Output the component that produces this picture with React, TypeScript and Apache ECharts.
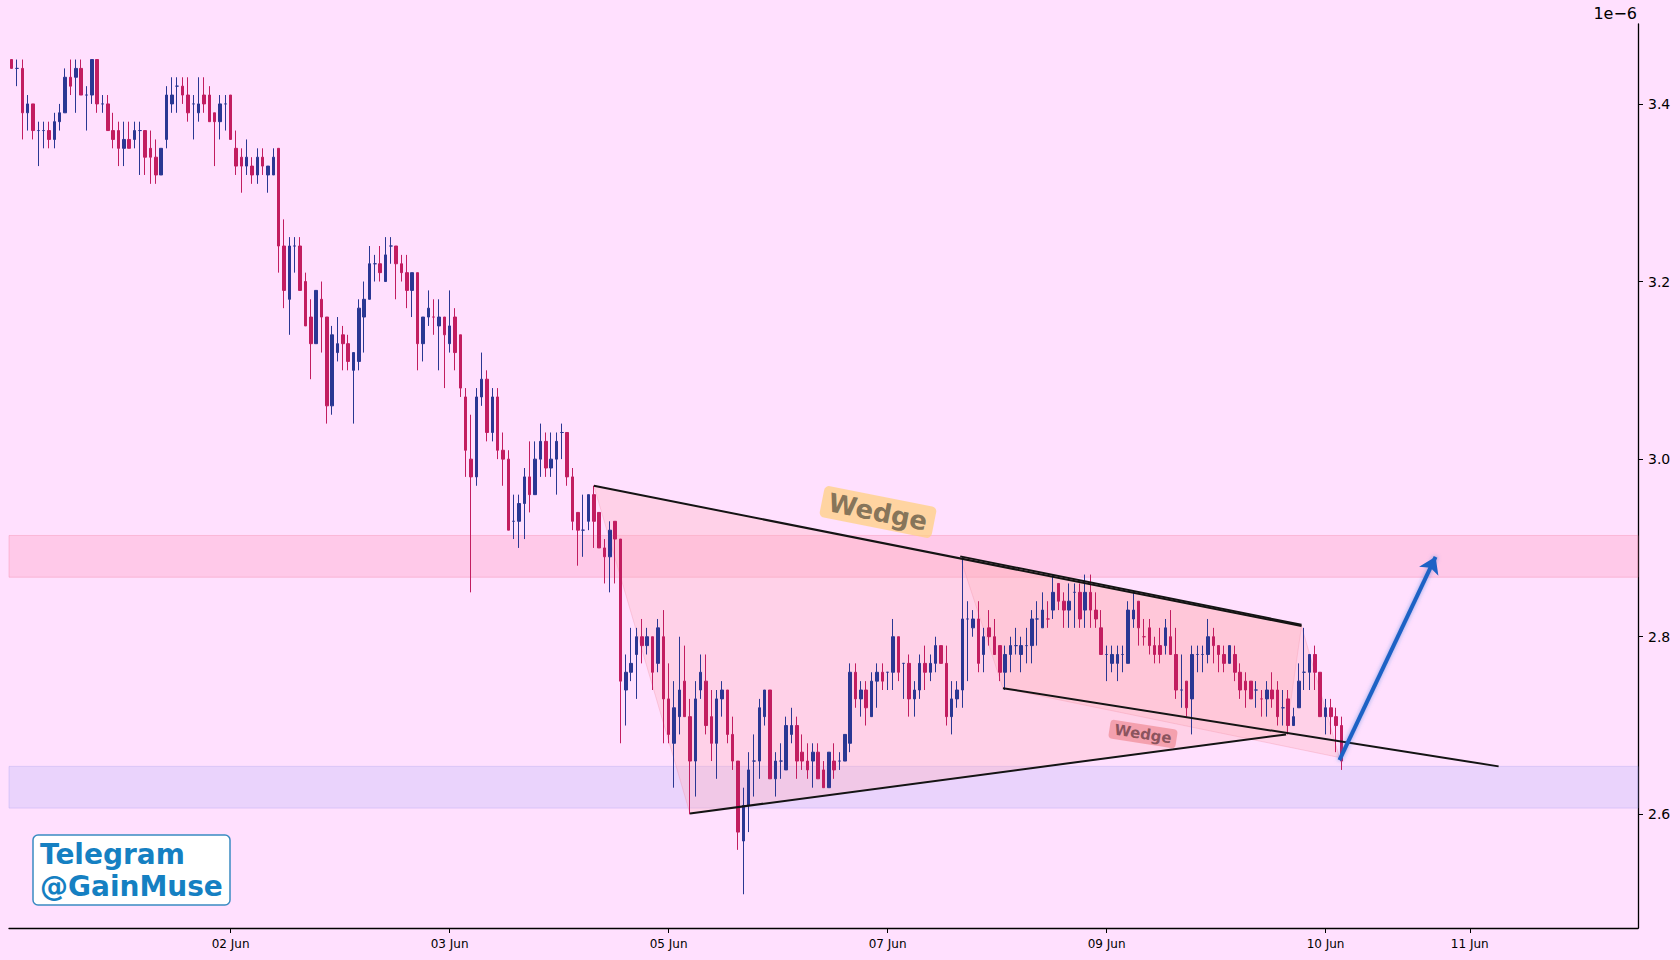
import React, { useEffect, useRef } from 'react';
import * as echarts from 'echarts';

// Candle values (units of 1e-6)
const opens = [
  3.45, 3.44, 3.44, 3.39, 3.40, 3.37, 3.37, 3.37, 3.36, 3.38,
  3.39, 3.43, 3.43, 3.44, 3.41, 3.41, 3.45, 3.40, 3.40, 3.37,
  3.37, 3.35, 3.36, 3.36, 3.37, 3.37, 3.35, 3.34, 3.32, 3.36,
  3.40, 3.42, 3.42, 3.41, 3.40, 3.39, 3.41, 3.41, 3.39, 3.38,
  3.40, 3.41, 3.35, 3.34, 3.33, 3.33, 3.32, 3.34, 3.32, 3.32,
  3.35, 3.24, 3.18, 3.24, 3.24, 3.20, 3.16, 3.13, 3.18, 3.16,
  3.06, 3.12, 3.14, 3.13, 3.10, 3.11, 3.16, 3.18, 3.22, 3.22,
  3.20, 3.24, 3.24, 3.22, 3.21, 3.19, 3.21, 3.13, 3.16, 3.16,
  3.15, 3.16, 3.13, 3.16, 3.14, 3.07, 3.00, 2.98, 3.07, 3.09,
  3.03, 3.07, 3.01, 3.00, 2.93, 2.93, 2.95, 2.98, 2.96, 3.00,
  3.02, 2.99, 3.00, 3.03, 3.03, 2.98, 2.94, 2.92, 2.93, 2.96,
  2.94, 2.90, 2.89, 2.93, 2.91, 2.74, 2.76, 2.78, 2.80, 2.79,
  2.80, 2.77, 2.80, 2.73, 2.68, 2.71, 2.75, 2.71, 2.66, 2.74,
  2.75, 2.71, 2.68, 2.73, 2.74, 2.69, 2.66, 2.57, 2.61, 2.66,
  2.66, 2.71, 2.74, 2.64, 2.66, 2.65, 2.69, 2.70, 2.67, 2.66,
  2.66, 2.67, 2.65, 2.63, 2.66, 2.66, 2.66, 2.68, 2.76, 2.73,
  2.74, 2.71, 2.75, 2.76, 2.76, 2.76, 2.80, 2.77, 2.77, 2.73,
  2.74, 2.77, 2.76, 2.77, 2.79, 2.77, 2.71, 2.73, 2.74, 2.82,
  2.81, 2.82, 2.78, 2.81, 2.80, 2.79, 2.76, 2.78, 2.79, 2.78,
  2.79, 2.79, 2.82, 2.81, 2.82, 2.83, 2.86, 2.84, 2.83, 2.85,
  2.85, 2.83, 2.85, 2.83, 2.81, 2.78, 2.77, 2.77, 2.78, 2.77,
  2.82, 2.84, 2.80, 2.81, 2.79, 2.79, 2.79, 2.80, 2.78, 2.74,
  2.75, 2.73, 2.78, 2.78, 2.78, 2.80, 2.79, 2.78, 2.77, 2.78,
  2.76, 2.75, 2.75, 2.74, 2.73, 2.73, 2.74, 2.74, 2.72, 2.73,
  2.70, 2.72, 2.76, 2.76, 2.78, 2.76, 2.71, 2.72, 2.71, 2.70,
];
const closes = [
  3.44, 3.44, 3.39, 3.40, 3.37, 3.37, 3.37, 3.36, 3.38, 3.39,
  3.43, 3.42, 3.44, 3.41, 3.41, 3.45, 3.40, 3.40, 3.37, 3.36,
  3.35, 3.36, 3.35, 3.37, 3.37, 3.34, 3.34, 3.32, 3.35, 3.41,
  3.41, 3.42, 3.41, 3.39, 3.40, 3.40, 3.40, 3.38, 3.38, 3.40,
  3.40, 3.36, 3.33, 3.33, 3.34, 3.32, 3.34, 3.33, 3.33, 3.34,
  3.24, 3.19, 3.24, 3.24, 3.19, 3.15, 3.13, 3.19, 3.16, 3.06,
  3.14, 3.13, 3.13, 3.11, 3.12, 3.17, 3.18, 3.22, 3.22, 3.21,
  3.23, 3.24, 3.22, 3.21, 3.19, 3.21, 3.13, 3.16, 3.17, 3.16,
  3.16, 3.14, 3.15, 3.12, 3.08, 3.01, 2.98, 3.07, 3.09, 3.03,
  3.07, 3.01, 3.00, 2.92, 2.93, 2.95, 2.98, 2.96, 3.00, 3.02,
  2.99, 3.00, 3.02, 3.03, 2.98, 2.93, 2.92, 2.92, 2.96, 2.93,
  2.90, 2.89, 2.92, 2.91, 2.75, 2.76, 2.77, 2.80, 2.79, 2.80,
  2.76, 2.81, 2.73, 2.69, 2.72, 2.74, 2.71, 2.66, 2.73, 2.76,
  2.70, 2.68, 2.73, 2.74, 2.69, 2.66, 2.58, 2.61, 2.65, 2.66,
  2.72, 2.74, 2.64, 2.66, 2.66, 2.70, 2.70, 2.66, 2.66, 2.65,
  2.67, 2.64, 2.63, 2.67, 2.65, 2.66, 2.69, 2.76, 2.73, 2.74,
  2.72, 2.75, 2.76, 2.75, 2.76, 2.80, 2.76, 2.77, 2.73, 2.74,
  2.77, 2.76, 2.77, 2.79, 2.77, 2.71, 2.73, 2.74, 2.82, 2.82,
  2.82, 2.77, 2.80, 2.80, 2.78, 2.76, 2.78, 2.79, 2.79, 2.79,
  2.79, 2.82, 2.82, 2.83, 2.82, 2.85, 2.84, 2.83, 2.84, 2.85,
  2.82, 2.85, 2.83, 2.82, 2.78, 2.78, 2.78, 2.78, 2.78, 2.83,
  2.83, 2.81, 2.80, 2.79, 2.78, 2.78, 2.81, 2.78, 2.74, 2.74,
  2.72, 2.78, 2.78, 2.78, 2.80, 2.79, 2.78, 2.77, 2.79, 2.76,
  2.74, 2.74, 2.73, 2.74, 2.73, 2.74, 2.73, 2.71, 2.72, 2.70,
  2.71, 2.75, 2.76, 2.78, 2.76, 2.71, 2.72, 2.71, 2.70, 2.66,
];
const lows = [
  3.44, 3.42, 3.36, 3.37, 3.36, 3.33, 3.35, 3.35, 3.35, 3.37,
  3.39, 3.41, 3.39, 3.41, 3.37, 3.40, 3.39, 3.39, 3.37, 3.35,
  3.33, 3.33, 3.35, 3.35, 3.32, 3.32, 3.31, 3.31, 3.32, 3.35,
  3.39, 3.39, 3.40, 3.38, 3.36, 3.38, 3.39, 3.38, 3.33, 3.36,
  3.37, 3.36, 3.32, 3.30, 3.32, 3.31, 3.31, 3.32, 3.30, 3.32,
  3.21, 3.17, 3.14, 3.21, 3.19, 3.15, 3.09, 3.13, 3.12, 3.04,
  3.05, 3.11, 3.10, 3.10, 3.04, 3.10, 3.12, 3.18, 3.20, 3.20,
  3.20, 3.22, 3.18, 3.20, 3.17, 3.16, 3.10, 3.11, 3.15, 3.14,
  3.10, 3.08, 3.12, 3.10, 3.07, 2.98, 2.85, 2.97, 3.06, 3.02,
  3.02, 3.00, 2.97, 2.92, 2.91, 2.90, 2.91, 2.94, 2.96, 2.98,
  2.98, 2.98, 2.96, 3.00, 2.97, 2.92, 2.88, 2.89, 2.92, 2.90,
  2.90, 2.86, 2.85, 2.86, 2.68, 2.70, 2.75, 2.73, 2.77, 2.78,
  2.74, 2.76, 2.68, 2.68, 2.63, 2.69, 2.71, 2.60, 2.62, 2.73,
  2.69, 2.66, 2.64, 2.71, 2.68, 2.65, 2.56, 2.51, 2.58, 2.62,
  2.64, 2.70, 2.64, 2.62, 2.64, 2.65, 2.68, 2.64, 2.65, 2.64,
  2.63, 2.64, 2.63, 2.63, 2.64, 2.65, 2.66, 2.67, 2.72, 2.71,
  2.70, 2.71, 2.72, 2.74, 2.74, 2.74, 2.75, 2.73, 2.71, 2.71,
  2.73, 2.74, 2.75, 2.76, 2.77, 2.70, 2.69, 2.72, 2.72, 2.75,
  2.80, 2.76, 2.76, 2.79, 2.78, 2.75, 2.74, 2.76, 2.78, 2.76,
  2.77, 2.77, 2.79, 2.81, 2.81, 2.82, 2.83, 2.81, 2.81, 2.81,
  2.81, 2.81, 2.81, 2.81, 2.78, 2.75, 2.76, 2.75, 2.76, 2.77,
  2.81, 2.79, 2.79, 2.78, 2.77, 2.77, 2.78, 2.78, 2.73, 2.72,
  2.71, 2.69, 2.76, 2.76, 2.77, 2.77, 2.76, 2.76, 2.77, 2.75,
  2.73, 2.72, 2.73, 2.72, 2.71, 2.71, 2.72, 2.70, 2.70, 2.69,
  2.70, 2.72, 2.74, 2.74, 2.74, 2.71, 2.69, 2.69, 2.67, 2.65,
];
const highs = [
  3.45, 3.45, 3.45, 3.41, 3.40, 3.38, 3.38, 3.38, 3.39, 3.40,
  3.44, 3.45, 3.45, 3.45, 3.42, 3.45, 3.45, 3.41, 3.41, 3.39,
  3.38, 3.38, 3.38, 3.38, 3.38, 3.37, 3.37, 3.36, 3.35, 3.42,
  3.43, 3.43, 3.43, 3.43, 3.41, 3.43, 3.43, 3.42, 3.39, 3.41,
  3.41, 3.41, 3.37, 3.35, 3.36, 3.34, 3.35, 3.35, 3.33, 3.35,
  3.35, 3.27, 3.25, 3.25, 3.25, 3.21, 3.18, 3.19, 3.20, 3.16,
  3.15, 3.16, 3.15, 3.14, 3.12, 3.18, 3.20, 3.24, 3.23, 3.24,
  3.25, 3.25, 3.24, 3.23, 3.23, 3.21, 3.21, 3.16, 3.19, 3.18,
  3.18, 3.16, 3.19, 3.17, 3.14, 3.08, 3.05, 3.08, 3.12, 3.10,
  3.08, 3.08, 3.03, 3.01, 2.96, 2.96, 2.99, 3.02, 3.02, 3.04,
  3.03, 3.03, 3.03, 3.04, 3.03, 2.99, 2.94, 2.96, 2.96, 2.97,
  2.94, 2.91, 2.93, 2.93, 2.91, 2.78, 2.81, 2.81, 2.82, 2.81,
  2.80, 2.82, 2.83, 2.77, 2.75, 2.80, 2.79, 2.73, 2.75, 2.78,
  2.78, 2.74, 2.74, 2.75, 2.74, 2.71, 2.66, 2.63, 2.67, 2.69,
  2.73, 2.74, 2.74, 2.67, 2.68, 2.71, 2.72, 2.71, 2.69, 2.68,
  2.68, 2.68, 2.66, 2.67, 2.68, 2.67, 2.69, 2.77, 2.77, 2.75,
  2.75, 2.76, 2.77, 2.77, 2.76, 2.82, 2.80, 2.77, 2.78, 2.75,
  2.78, 2.79, 2.78, 2.80, 2.79, 2.79, 2.75, 2.75, 2.89, 2.84,
  2.83, 2.84, 2.81, 2.83, 2.82, 2.79, 2.79, 2.80, 2.81, 2.80,
  2.81, 2.83, 2.84, 2.85, 2.84, 2.87, 2.86, 2.85, 2.86, 2.86,
  2.86, 2.87, 2.87, 2.85, 2.83, 2.79, 2.79, 2.79, 2.79, 2.84,
  2.85, 2.84, 2.82, 2.82, 2.80, 2.81, 2.82, 2.83, 2.81, 2.78,
  2.75, 2.79, 2.79, 2.79, 2.82, 2.81, 2.79, 2.79, 2.79, 2.79,
  2.77, 2.76, 2.75, 2.75, 2.74, 2.75, 2.76, 2.75, 2.74, 2.74,
  2.72, 2.77, 2.81, 2.78, 2.79, 2.76, 2.73, 2.73, 2.72, 2.71,
];

// x axis: slot count and date tick labels at candle indices
const slotCount = 305;
const tickIndices = [41, 82, 123, 164, 205, 246, 273];
const tickLabels = ['02 Jun', '03 Jun', '05 Jun', '07 Jun', '09 Jun', '10 Jun', '11 Jun'];
// y axis
const yMin = 2.472;
const yMax = 3.49;
const yTicks = [2.6, 2.8, 3.0, 3.2, 3.4];

// horizontal zones
const resistanceZone = [2.867, 2.914];
const supportZone = [2.607, 2.654];

// wedge drawing, in [candle index, price]
const bigWedgeArea = [[109, 2.97], [241.5, 2.812], [238.6, 2.69], [127, 2.601]];
const smallWedgeArea = [[177.6, 2.889], [241.5, 2.812], [248.6, 2.664], [185.6, 2.742]];
const wedgeAreas = [bigWedgeArea, smallWedgeArea];
const trendLines = [
  [[109, 2.97], [241.5, 2.812]],
  [[127, 2.601], [238.6, 2.69]],
  [[177.6, 2.8905], [241.5, 2.8135]],
  [[185.6, 2.742], [278.4, 2.654]],
];
const arrowLine = [[248.6, 2.661], [266.6, 2.89]];

const BULL = '#2A3793';
const BEAR = '#C21D60';
const FONT = 'DejaVu Sans';

export default function App() {
  const ref = useRef<HTMLDivElement>(null);

  useEffect(() => {
    if (!ref.current) return;
    const chart = echarts.init(ref.current, null, { renderer: 'svg' });

    const categories = Array.from({ length: slotCount }, (_, i) => String(i));
    const tickSet = new Set(tickIndices);
    const labelMap: Record<number, string> = {};
    tickIndices.forEach((t, k) => (labelMap[t] = tickLabels[k]));

    const candleData = opens.map((o, i) => [o, closes[i], lows[i], highs[i]]);

    const series: any[] = [
      {
        type: 'custom',
        name: 'wedgeAreas',
        xAxisIndex: 1,
        yAxisIndex: 0,
        z: 1,
        silent: true,
        data: wedgeAreas.map((p) => [p[0][0], p[0][1]]),
        encode: { x: 0, y: 1 },
        renderItem: (params: any, api: any) => {
          const poly = wedgeAreas[params.dataIndex];
          return {
            type: 'polygon',
            shape: { points: poly.map((p) => api.coord(p)) },
            style: {
              fill: 'rgba(255,176,186,0.32)',
              stroke: 'rgba(240,150,170,0.35)',
              lineWidth: 1,
            },
          };
        },
      },
      {
        type: 'candlestick',
        xAxisIndex: 0,
        yAxisIndex: 0,
        z: 2,
        barWidth: 3,
        data: candleData,
        itemStyle: {
          color: BULL,
          color0: BEAR,
          borderColor: BULL,
          borderColor0: BEAR,
          borderWidth: 1,
        },
        markArea: {
          silent: true,
          data: [
            [
              {
                yAxis: resistanceZone[0],
                itemStyle: {
                  color: 'rgba(255,110,150,0.2)',
                  borderColor: 'rgba(240,130,160,0.35)',
                  borderWidth: 1,
                },
              },
              { yAxis: resistanceZone[1] },
            ],
            [
              {
                yAxis: supportZone[0],
                itemStyle: {
                  color: 'rgba(150,160,245,0.2)',
                  borderColor: 'rgba(170,160,240,0.35)',
                  borderWidth: 1,
                },
              },
              { yAxis: supportZone[1] },
            ],
          ],
        },
      },
      ...trendLines.map((seg) => ({
        type: 'line',
        xAxisIndex: 1,
        yAxisIndex: 0,
        z: 4,
        silent: true,
        symbol: 'none',
        data: seg,
        lineStyle: { color: '#141414', width: 2 },
      })),
      {
        type: 'line',
        xAxisIndex: 1,
        yAxisIndex: 0,
        z: 5,
        silent: true,
        symbol: 'none',
        data: arrowLine,
        lineStyle: { width: 0, opacity: 0 },
        markLine: {
          silent: true,
          symbol: ['none', 'arrow'],
          symbolSize: 16,
          label: { show: false },
          lineStyle: {
            color: '#1D62C5',
            width: 4,
            type: 'solid',
            shadowBlur: 4,
            shadowColor: 'rgba(40,110,210,0.55)',
          },
          data: [[{ coord: arrowLine[0] }, { coord: arrowLine[1] }]],
        },
      },
    ];

    const option: any = {
      animation: false,
      backgroundColor: '#FFE0FE',
      textStyle: { fontFamily: FONT },
      grid: { left: 9, right: 42, top: 24, bottom: 32, outerBoundsMode: 'none' },
      xAxis: [
        {
          type: 'category',
          data: categories,
          boundaryGap: true,
          position: 'bottom',
          axisLine: { show: true, onZero: false, lineStyle: { color: '#000', width: 1.3 } },
          axisTick: {
            show: true,
            alignWithLabel: true,
            interval: (idx: number) => tickSet.has(idx),
            length: 5,
            lineStyle: { color: '#000', width: 1 },
          },
          axisLabel: {
            show: true,
            interval: (idx: number) => tickSet.has(idx),
            formatter: (_v: string, idx: number) => labelMap[idx] ?? '',
            color: '#000',
            fontSize: 12,
            fontFamily: FONT,
            margin: 10,
          },
          splitLine: { show: false },
        },
        {
          type: 'value',
          min: -0.5,
          max: slotCount - 0.5,
          show: false,
          axisLine: { show: false, onZero: false },
          splitLine: { show: false },
        },
      ],
      yAxis: [
        {
          type: 'value',
          position: 'right',
          min: yMin,
          max: yMax,
          scale: true,
          axisLine: { show: true, onZero: false, lineStyle: { color: '#000', width: 1.3 } },
          axisTick: {
            show: true,
            customValues: yTicks,
            length: 5,
            lineStyle: { color: '#000', width: 1 },
          },
          axisLabel: {
            show: true,
            customValues: yTicks,
            formatter: (v: number) => v.toFixed(1),
            color: '#000',
            fontSize: 14,
            fontFamily: FONT,
            margin: 10,
          },
          splitLine: { show: false },
        },
      ],
      graphic: [
        {
          type: 'text',
          right: 43,
          top: 5,
          style: { text: '1e\u22126', fontSize: 16, fontFamily: FONT, fill: '#000' },
        },
        {
          type: 'text',
          x: 878,
          y: 512,
          rotation: -0.195,
          z: 10,
          style: {
            text: 'Wedge',
            fontSize: 26,
            fontWeight: 'bold',
            fontFamily: FONT,
            fill: 'rgba(118,104,80,0.9)',
            align: 'center',
            verticalAlign: 'middle',
            backgroundColor: 'rgba(255,208,130,0.75)',
            padding: [3, 7],
            borderRadius: 5,
          },
        },
        {
          type: 'text',
          x: 1143,
          y: 734,
          rotation: -0.157,
          z: 10,
          style: {
            text: 'Wedge',
            fontSize: 15,
            fontWeight: 'bold',
            fontFamily: FONT,
            fill: 'rgba(120,70,80,0.85)',
            align: 'center',
            verticalAlign: 'middle',
            backgroundColor: 'rgba(240,140,150,0.7)',
            padding: [2, 5],
            borderRadius: 4,
          },
        },
        {
          type: 'rect',
          z: 10,
          shape: { x: 33, y: 835, width: 197, height: 70, r: 5 },
          style: { fill: '#FFFFFF', stroke: '#3A8BC2', lineWidth: 1.5 },
        },
        {
          type: 'text',
          z: 11,
          x: 40,
          y: 870,
          style: {
            text: 'Telegram\n@GainMuse',
            fontSize: 28,
            fontWeight: 'bold',
            fontFamily: FONT,
            fill: '#1580C2',
            lineHeight: 32,
            verticalAlign: 'middle',
            align: 'left',
          },
        },
      ],
      series,
    };

    chart.setOption(option);
    return () => chart.dispose();
  }, []);

  return (
    <div
      ref={ref}
      style={{ position: 'fixed', left: 0, top: 0, width: 1680, height: 960 }}
    />
  );
}
